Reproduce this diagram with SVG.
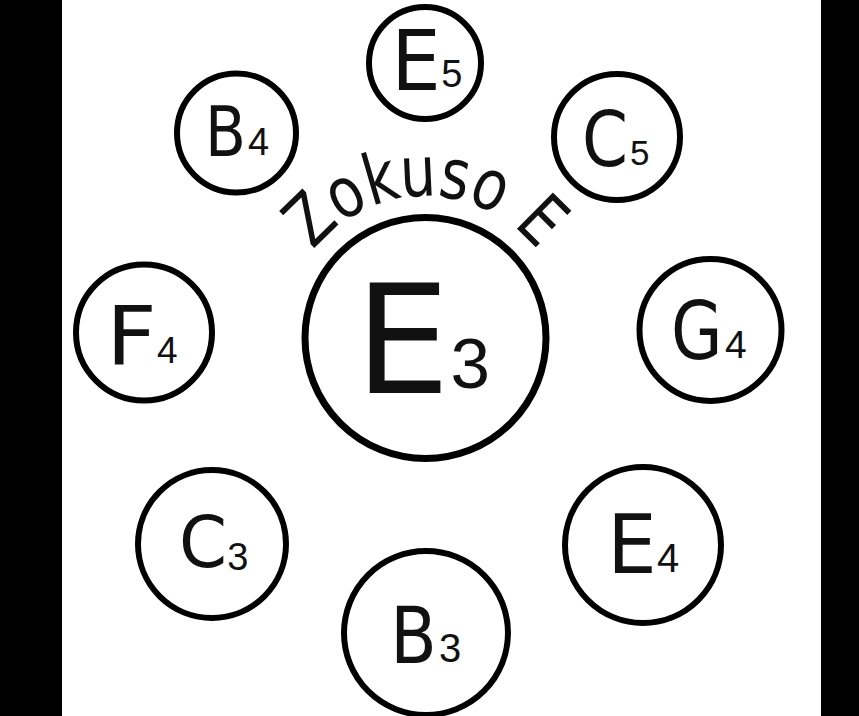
<svg xmlns="http://www.w3.org/2000/svg" xmlns:xlink="http://www.w3.org/1999/xlink" width="859" height="716" viewBox="0 0 859 716">
<style>
.ring{fill:#fff;stroke:#000;stroke-width:6}
.big{stroke-width:7}
.L{font-family:"DejaVu Sans","Liberation Sans",sans-serif;fill:#111}
.D{font-family:"Liberation Sans","DejaVu Sans",sans-serif;fill:#111}
</style>
<defs>
<path id="arc" d="M 283.5 338 A 142 142 0 0 1 567.5 338"/>
</defs>
<rect x="0" y="0" width="859" height="716" fill="#fff"/>
<rect x="0" y="0" width="62" height="716" fill="#000"/>
<rect x="821" y="0" width="38" height="716" fill="#000"/>

<g id="node-E3">
<circle class="ring big" cx="425.5" cy="338" r="120.5"/>
<text class="L" font-size="152"><tspan x="355" y="393" textLength="95" lengthAdjust="spacingAndGlyphs">E</tspan><tspan class="D" x="450.5" y="388" font-size="71">3</tspan></text>
</g>
<g id="title">
<text class="L" font-size="70"><textPath xlink:href="#arc" href="#arc" startOffset="50%" text-anchor="middle" textLength="258" lengthAdjust="spacingAndGlyphs">Zokuso E</textPath></text>
</g>
<g id="node-E5">
<circle class="ring" cx="425" cy="63" r="56"/>
<text class="L" font-size="84"><tspan x="391.3" y="90" textLength="49.5" lengthAdjust="spacingAndGlyphs">E</tspan><tspan class="D" x="441.2" y="87" font-size="38">5</tspan></text>
</g>
<g id="node-C5">
<circle class="ring" cx="617" cy="137" r="63"/>
<text class="L" font-size="76"><tspan x="582" y="166" textLength="46" lengthAdjust="spacingAndGlyphs">C</tspan><tspan class="D" x="630" y="165" font-size="35">5</tspan></text>
</g>
<g id="node-B4">
<circle class="ring" cx="236.5" cy="133" r="59.5"/>
<text class="L" font-size="69"><tspan x="205" y="156" textLength="41" lengthAdjust="spacingAndGlyphs">B</tspan><tspan class="D" x="248" y="155" font-size="38">4</tspan></text>
</g>
<g id="node-F4">
<circle class="ring" cx="144" cy="332.5" r="68"/>
<text class="L" font-size="82"><tspan x="106.3" y="365" textLength="50.5" lengthAdjust="spacingAndGlyphs">F</tspan><tspan class="D" x="157" y="363" font-size="37">4</tspan></text>
</g>
<g id="node-G4">
<circle class="ring" cx="710.5" cy="330" r="71"/>
<text class="L" font-size="80"><tspan x="671" y="359" textLength="51.5" lengthAdjust="spacingAndGlyphs">G</tspan><tspan class="D" x="725" y="358" font-size="39">4</tspan></text>
</g>
<g id="node-C3">
<circle class="ring" cx="212" cy="544" r="74"/>
<text class="L" font-size="72"><tspan x="179" y="567" textLength="48" lengthAdjust="spacingAndGlyphs">C</tspan><tspan class="D" x="227.2" y="570" font-size="38">3</tspan></text>
</g>
<g id="node-E4">
<circle class="ring" cx="643" cy="545" r="78"/>
<text class="L" font-size="82"><tspan x="607.3" y="573" textLength="49.5" lengthAdjust="spacingAndGlyphs">E</tspan><tspan class="D" x="657" y="572" font-size="40">4</tspan></text>
</g>
<g id="node-B3">
<circle class="ring" cx="426" cy="633" r="82"/>
<text class="L" font-size="78"><tspan x="390.3" y="663" textLength="46.5" lengthAdjust="spacingAndGlyphs">B</tspan><tspan class="D" x="439" y="662" font-size="40">3</tspan></text>
</g>
<g id="connectors"></g>
</svg>
